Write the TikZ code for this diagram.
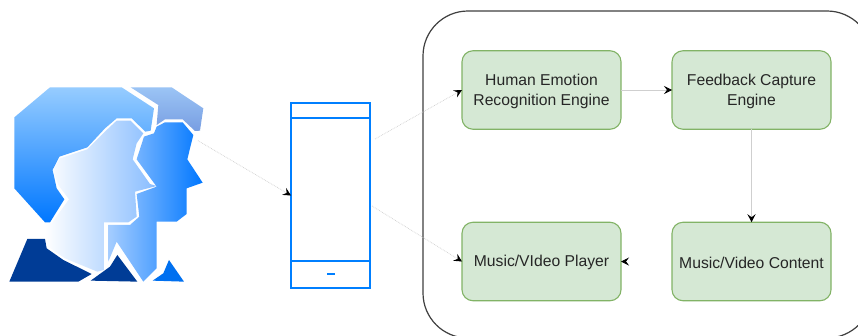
\documentclass[tikz,border=0pt]{standalone}
\usepackage{fontspec}
\setmainfont{Liberation Sans}
\usetikzlibrary{arrows.meta}
\definecolor{boxfill}{HTML}{D5E8D4}
\definecolor{boxline}{HTML}{82B366}
\definecolor{phoneblue}{HTML}{007FFF}
\definecolor{linkgrey}{HTML}{CFCFCF}
\definecolor{txt}{HTML}{262626}
\definecolor{navyblue}{HTML}{003C96}
\definecolor{brightblue}{HTML}{0070F0}
\newcommand{\lowered}[1]{\raisebox{-1pt}[\height][\depth]{#1}}
\tikzset{
  enginebox/.style={draw=boxline,fill=boxfill,line width=1.1pt,rounded corners=11pt,minimum width=159pt,minimum height=78.5pt,inner sep=0pt,outer sep=0pt,align=center,text=txt,font=\fontsize{15.7pt}{20pt}\selectfont},
  phonebox/.style={draw=phoneblue,line width=2.7pt,minimum width=79pt,minimum height=185pt,inner sep=0pt,outer sep=0pt},
  link/.style={draw=linkgrey,line width=0.7pt,-{Stealth[black,length=8pt,width=8pt,inset=3pt]}},
  dotlink/.style={link,densely dotted},
}
\begin{document}
\begin{tikzpicture}[x=1pt,y=-1pt]
\useasboundingbox (0,0) rectangle (858,335);
\clip (0,0) rectangle (858,335);
\fill[white] (0,0) rectangle (858,335);
% container
\node[draw=black!75,line width=1.2pt,rounded corners=45pt,minimum width=449pt,minimum height=327pt,inner sep=0pt,outer sep=0pt] (panel) at (647.5,174.5) {};
% people icon, in 3x zoom coordinates
\begin{scope}[shift={(0,70)},x=0.3333pt,y=-0.3333pt]
\shade[top color={rgb,255:red,150;green,204;blue,255},bottom color={rgb,255:red,0;green,119;blue,255}]
  (150,52)--(365,52)--(462,115)--(452,182)--(436,185)--(395,145)--(350,145)--(315,175)--(262,232)--(178,260)--(158,300)--(170,355)--(193,388)--(150,457)--(135,457)--(43,355)--(43,142)--cycle;
\shade[top color={rgb,255:red,155;green,196;blue,245},bottom color={rgb,255:red,120;green,158;blue,226}]
  (392,52)--(515,52)--(610,115)--(600,182)--(585,183)--(548,148)--(495,148)--(470,165)--(475,105)--cycle;
\shade[left color=white,right color={rgb,255:red,135;green,188;blue,255}]
  (350,152)--(392,152)--(430,190)--(410,220)--(398,268)--(450,342)--(470,348)--(405,365)--(410,440)--(385,457)--(312,457)--(312,600)--(292,605)--(195,565)--(145,530)--(135,490)--(135,465)--(155,460)--(207,388)--(175,345)--(158,300)--(180,265)--(262,238)--(320,180)--cycle;
\shade[left color={rgb,255:red,165;green,205;blue,255},right color={rgb,255:red,0;green,119;blue,255}]
  (495,157)--(548,157)--(580,195)--(562,268)--(608,338)--(560,355)--(560,432)--(530,455)--(470,455)--(470,595)--(430,635)--(350,515)--(325,575)--(325,465)--(390,465)--(418,440)--(410,372)--(470,350)--(410,268)--(432,200)--(462,190)--(470,170)--cycle;
\fill[navyblue] (82,507)--(135,507)--(140,535)--(190,570)--(275,612)--(235,635)--(28,635)--cycle;
\fill[navyblue] (272,632)--(330,590)--(352,555)--(412,635)--cycle;
\fill[brightblue] (458,632)--(490,610)--(507,570)--(552,635)--cycle;
\coordinate (iconport) at (594,212);
\end{scope}
% phone
\node[phonebox] (phone) at (330.5,195.5) {};
\draw[phoneblue,line width=2.4pt] (phone.west |- 0,118) -- (phone.east |- 0,118);
\draw[phoneblue,line width=2pt] (phone.west |- 0,261) -- (phone.east |- 0,261);
\draw[phoneblue,line width=2.2pt] (327,274) -- (335,274);
\coordinate (phoneup) at (375,139);
\coordinate (phonedown) at (372,206);
% engines
\node[enginebox] (emotion) at (541.5,90) {\lowered{Human Emotion}\\\lowered{Recognition Engine}};
\node[enginebox] (feedback) at (751.5,90) {\lowered{Feedback Capture}\\\lowered{Engine}};
\node[enginebox] (player) at (541.5,261.5) {\lowered{Music/VIdeo Player}};
\node[enginebox] (content) at (751.5,261.5) {\lowered{Music/Video Content}};
% connectors
\draw[dotlink] (iconport) -- (phone.west);
\draw[dotlink] (phoneup) -- (emotion.west);
\draw[dotlink] (phonedown) -- (player.west);
\draw[link] (emotion.east) -- (feedback.west);
\draw[link,line width=1pt] (feedback.south) -- (content.north);
\draw[link,draw=white,shorten <=2pt] (content.west) -- (player.east);
\end{tikzpicture}
\end{document}
